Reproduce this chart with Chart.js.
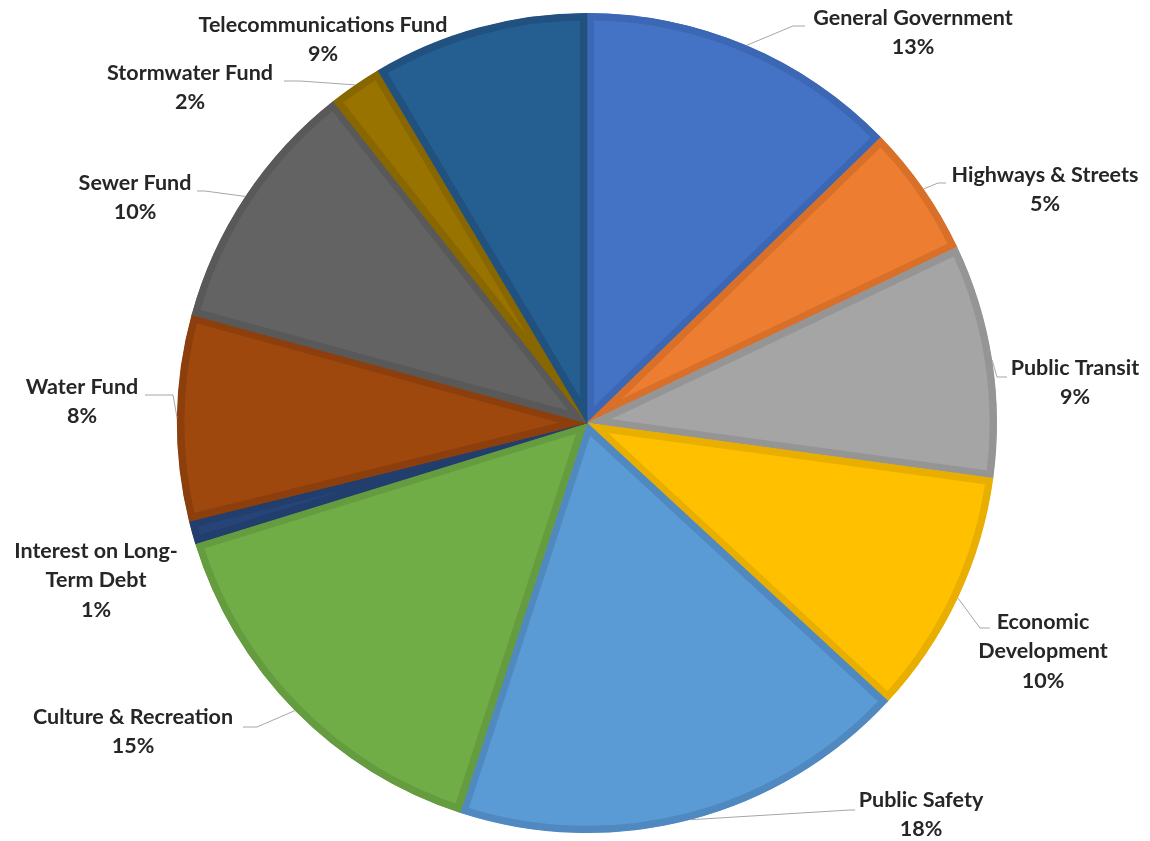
<!DOCTYPE html>
<html>
<head>
<meta charset="utf-8">
<script src="https://cdn.jsdelivr.net/npm/chart.js@4/dist/chart.umd.min.js"></script>
<style>
  body { margin: 0; background: #fff; }
</style>
</head>
<body>
<canvas id="chart" width="1150" height="841"></canvas>
<script>
// spending share by function / fund (percent of total)
const categories = [
    'General Government', 'Highways & Streets', 'Public Transit', 'Economic Development',
    'Public Safety', 'Culture & Recreation', 'Interest on Long-Term Debt', 'Water Fund',
    'Sewer Fund', 'Stormwater Fund', 'Telecommunications Fund'
];
const values = [12.7, 5.2, 9.2, 9.7, 18.1, 15.2, 0.9, 8.1, 10.1, 2.1, 8.5];
const labelLines = [
    ['General Government'], ['Highways & Streets'], ['Public Transit'], ['Economic', 'Development'],
    ['Public Safety'], ['Culture & Recreation'], ['Interest on Long-', 'Term Debt'], ['Water Fund'],
    ['Sewer Fund'], ['Stormwater Fund'], ['Telecommunications Fund']
];

const fillColors = ['#4472C4', '#ED7D31', '#A5A5A5', '#FFC000', '#5B9BD5', '#70AD47',
    '#264478', '#9E480E', '#636363', '#997300', '#255E91'];
const edgeColors = ['#3C67B4', '#D8702A', '#959595', '#E8AE00', '#5089C0', '#659C3F',
    '#223E6C', '#8C3F0C', '#595959', '#886600', '#21527F'];

// where each label sits: first text line centre, and leader elbow/end (null = no leader)
const labelLayout = [
    { x: 913, y: 18, elbow: [793, 26], end: [805, 26] },
    { x: 1045, y: 175, elbow: [938, 183], end: [946, 183] },
    { x: 1075, y: 368, elbow: [997, 377], end: [1007, 377] },
    { x: 1043, y: 622, elbow: [980, 628], end: [990, 628] },
    { x: 921, y: 800, elbow: [850, 810], end: [855, 810] },
    { x: 133, y: 717, elbow: [257, 727], end: [243, 727] },
    { x: 96, y: 551, elbow: null, end: null },
    { x: 82, y: 387, elbow: [173, 395], end: [145, 395] },
    { x: 135, y: 183, elbow: [205, 191], end: [197, 191] },
    { x: 190, y: 73, elbow: [300, 81], end: [284, 81] },
    { x: 323, y: 25, elbow: null, end: null }
];

const outsideLabels = {
    id: 'outsideLabels',
    afterDatasetsDraw(chart) {
        const ctx = chart.ctx;
        const meta = chart.getDatasetMeta(0);
        const total = values.reduce((a, b) => a + b, 0);
        ctx.save();
        meta.data.forEach((arc, i) => {
            const p = arc.getProps(['x', 'y', 'startAngle', 'endAngle', 'outerRadius'], true);
            const mid = (p.startAngle + p.endAngle) / 2;
            const lay = labelLayout[i];
            if (lay.elbow) {
                ctx.beginPath();
                ctx.strokeStyle = '#A6A6A6';
                ctx.lineWidth = 1;
                ctx.moveTo(p.x + Math.cos(mid) * p.outerRadius, p.y + Math.sin(mid) * p.outerRadius);
                ctx.lineTo(lay.elbow[0], lay.elbow[1]);
                ctx.lineTo(lay.end[0], lay.end[1]);
                ctx.stroke();
            }
            const lines = labelLines[i].concat([Math.round(values[i] / total * 100) + '%']);
            ctx.fillStyle = '#262626';
            ctx.font = 'bold 21.5px Lato';
            ctx.textAlign = 'center';
            ctx.textBaseline = 'middle';
            lines.forEach((t, k) => ctx.fillText(t, lay.x, lay.y + k * 29.5));
        });
        ctx.restore();
    }
};

new Chart(document.getElementById('chart'), {
    type: 'pie',
    data: {
        labels: categories,
        datasets: [{
            data: values,
            backgroundColor: fillColors,
            borderColor: edgeColors,
            borderWidth: 7,
            borderAlign: 'inner',
            offset: 0,
            hoverOffset: 0
        }]
    },
    options: {
        responsive: false,
        animation: false,
        layout: { padding: { top: 13, bottom: 8, left: 177, right: 153 } },
        plugins: {
            legend: { display: false },
            tooltip: { enabled: false }
        }
    },
    plugins: [outsideLabels]
});
</script>
</body>
</html>
